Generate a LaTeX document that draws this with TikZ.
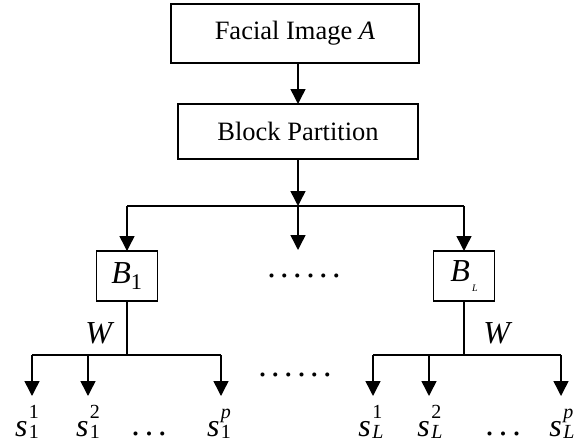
\documentclass[tikz,border=0pt]{standalone}
\usepackage{amsmath}
\usepackage{fontspec}
\setmainfont{Liberation Serif}
\usetikzlibrary{arrows.meta}
\newcommand{\txtfont}{\fontsize{26.5}{30}\selectfont}
\newcommand{\mfont}{\fontsize{32}{38}\selectfont}
\newcommand{\dotfont}{\fontsize{34}{38}\selectfont}
\newcommand{\dotsix}{.\hskip4.5pt.\hskip4.5pt.\hskip4.5pt.\hskip4.5pt.\hskip4.5pt.}
\newcommand{\dotthree}{.\hskip5pt.\hskip5pt.}
\newcommand{\scfont}{\fontsize{20}{20}\selectfont}
% s with superscript #1 and subscript #2
\newcommand{\sv}[2]{\textit{s}\hspace{1.5pt}\rlap{\raisebox{18pt}{\scfont #1}}\raisebox{-2pt}{\scfont #2}}
\begin{document}
\begin{tikzpicture}[x=1pt,y=-1pt,line width=1.5pt,
  >={Triangle[length=15pt,width=15pt]},
  box/.style={draw,line width=1.5pt,inner sep=0pt,outer sep=0pt,font=\txtfont},
  mbox/.style={draw,line width=1.5pt,inner sep=0pt,outer sep=0pt,font=\mfont,minimum width=61pt,minimum height=50pt},
  lab/.style={inner sep=0pt,font=\mfont,anchor=base},
  dots/.style={inner sep=0pt,font=\dotfont,anchor=base}]
\useasboundingbox (0,0) rectangle (580,444);
% boxes
\node[box,minimum width=248pt,minimum height=59pt] (fi) at (295,33.5) {Facial Image \textit{A}};
\node[box,minimum width=240pt,minimum height=55pt] (bp) at (298,131.5) {Block Partition};
\node[mbox] (b1) at (127,276) {$\textit{B}_{\text{1}}$};
\node[mbox] (bl) at (464,276) {\textit{B}\hspace{2pt}\raisebox{-10pt}{\fontsize{10}{10}\selectfont\textit{L}}};
% top connectors
\draw[->] (fi.south -| bp.north) -- (bp.north);
\coordinate (j) at (298,206);
\coordinate (jl) at (127,206);
\coordinate (jr) at (464,206);
\coordinate (jm) at (298,250);
\draw[->] (bp.south) -- (j);
\draw (jl) -- (jr);
\draw[->] (jl) -- (b1.north);
\draw[->] (j) -- (jm);
\draw[->] (jr) -- (bl.north);
\node[dots] (d1) at (304,277) {\dotsix};
% lower left
\coordinate (k1) at (127,355);
\coordinate (h11) at (32,355);
\coordinate (h12) at (88,355);
\coordinate (h1p) at (221,355);
\coordinate (e11) at (32,396);
\coordinate (e12) at (88,396);
\coordinate (e1p) at (221,396);
\draw (b1.south) -- (k1);
\draw (h11) -- (h1p);
\draw[->] (h11) -- (e11);
\draw[->] (h12) -- (e12);
\draw[->] (h1p) -- (e1p);
\node[lab,anchor=center] (w1) at (100,333) {\textit{W}};
% lower right
\coordinate (k2) at (464,355);
\coordinate (h21) at (373,355);
\coordinate (h22) at (429,355);
\coordinate (h2p) at (561,355);
\coordinate (e21) at (373,396);
\coordinate (e22) at (429,396);
\coordinate (e2p) at (561,396);
\draw (bl.south) -- (k2);
\draw (h21) -- (h2p);
\draw[->] (h21) -- (e21);
\draw[->] (h22) -- (e22);
\draw[->] (h2p) -- (e2p);
\node[lab,anchor=center] (w2) at (498,333) {\textit{W}};
% middle dots
\node[dots] (d2) at (295,376) {\dotsix};
% labels
\node[lab] (s11) at (27,436) {\sv{1}{1}};
\node[lab] (s12) at (88,436) {\sv{2}{1}};
\node[dots] (d3) at (149,435) {\dotthree};
\node[lab] (s1p) at (219,436) {\sv{\textit{p}}{1}};
\node[lab] (s21) at (371,436) {\sv{1}{\textit{L}}};
\node[lab] (s22) at (430,436) {\sv{2}{\textit{L}}};
\node[dots] (d4) at (503,435) {\dotthree};
\node[lab] (s2p) at (562,436) {\sv{\textit{p}}{\textit{L}}};
\end{tikzpicture}
\end{document}
